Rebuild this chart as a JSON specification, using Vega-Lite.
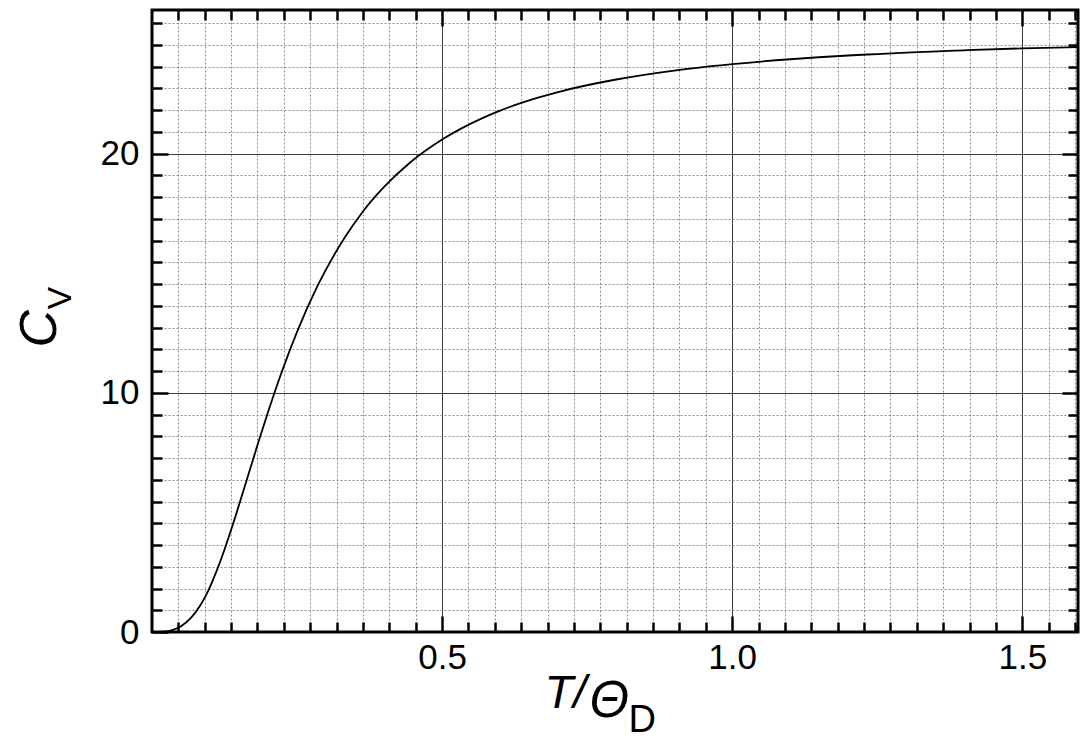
{
  "$schema": "https://vega.github.io/schema/vega-lite/v6.json",
  "width": 926,
  "height": 622,
  "autosize": {"type": "none"},
  "padding": {"left": 152, "top": 10, "right": 3, "bottom": 106},
  "background": "white",
  "config": {
    "view": {"stroke": "black", "strokeWidth": 3},
    "axis": {
      "labelFont": "Liberation Sans",
      "titleFont": "Liberation Sans",
      "labelColor": "black",
      "titleColor": "black",
      "domain": false,
      "tickColor": "black",
      "tickWidth": 2.5,
      "labelFontSize": 35,
      "labelFontWeight": "normal",
      "titleFontWeight": "normal"
    }
  },
  "data": {
    "values": [
      {"t": 0, "cv": 0},
      {"t": 0.025, "cv": 0.03},
      {"t": 0.0333, "cv": 0.072},
      {"t": 0.04, "cv": 0.124},
      {"t": 0.05, "cv": 0.243},
      {"t": 0.0667, "cv": 0.576},
      {"t": 0.0833, "cv": 1.117},
      {"t": 0.0909, "cv": 1.44},
      {"t": 0.1, "cv": 1.891},
      {"t": 0.1111, "cv": 2.531},
      {"t": 0.125, "cv": 3.447},
      {"t": 0.1333, "cv": 4.045},
      {"t": 0.1429, "cv": 4.76},
      {"t": 0.1538, "cv": 5.614},
      {"t": 0.1667, "cv": 6.624},
      {"t": 0.1818, "cv": 7.814},
      {"t": 0.2, "cv": 9.193},
      {"t": 0.2222, "cv": 10.774},
      {"t": 0.25, "cv": 12.546},
      {"t": 0.2857, "cv": 14.485},
      {"t": 0.3333, "cv": 16.529},
      {"t": 0.3636, "cv": 17.58},
      {"t": 0.4, "cv": 18.604},
      {"t": 0.4444, "cv": 19.615},
      {"t": 0.5, "cv": 20.585},
      {"t": 0.5714, "cv": 21.502},
      {"t": 0.6, "cv": 21.795},
      {"t": 0.6667, "cv": 22.344},
      {"t": 0.7, "cv": 22.572},
      {"t": 0.8, "cv": 23.095},
      {"t": 0.9, "cv": 23.469},
      {"t": 1.0, "cv": 23.736},
      {"t": 1.1, "cv": 23.942},
      {"t": 1.2, "cv": 24.098},
      {"t": 1.25, "cv": 24.159},
      {"t": 1.3, "cv": 24.22},
      {"t": 1.4, "cv": 24.315},
      {"t": 1.5, "cv": 24.397},
      {"t": 1.596, "cv": 24.45}
    ]
  },
  "layer": [
    {
      "mark": {"type": "line", "strokeOpacity": 0},
      "encoding": {
        "x": {
          "field": "t", "type": "quantitative",
          "scale": {"domain": [0, 1.596], "nice": false, "zero": false},
          "axis": {
            "orient": "bottom",
            "values": [0.04545, 0.09091, 0.13636, 0.18182, 0.22727, 0.27273, 0.31818, 0.36364, 0.40909, 0.45455, 0.54545, 0.59091, 0.63636, 0.68182, 0.72727, 0.77273, 0.81818, 0.86364, 0.90909, 0.95455, 1.04545, 1.09091, 1.13636, 1.18182, 1.22727, 1.27273, 1.31818, 1.36364, 1.40909, 1.45455, 1.54545, 1.59091],
            "labels": false,
            "tickSize": -10,
            "grid": true,
            "gridColor": "#8a8a8a",
            "gridDash": [2, 2],
            "gridWidth": 1,
            "title": "T/",
            "titleFontStyle": "italic",
            "titleFontSize": 47,
            "titleAlign": "left",
            "titleBaseline": "alphabetic",
            "titleAngle": 0,
            "titleX": 392,
            "titleY": 75
          }
        },
        "y": {
          "field": "cv", "type": "quantitative",
          "scale": {"domain": [0, 26], "nice": false, "zero": false},
          "axis": {
            "orient": "left",
            "values": [0.90909, 1.81818, 2.72727, 3.63636, 4.54545, 5.45455, 6.36364, 7.27273, 8.18182, 9.09091, 10.90909, 11.81818, 12.72727, 13.63636, 14.54545, 15.45455, 16.36364, 17.27273, 18.18182, 19.09091, 20.90909, 21.81818, 22.72727, 23.63636, 24.54545, 25.45455],
            "labels": false,
            "tickSize": -10,
            "grid": true,
            "gridColor": "#8a8a8a",
            "gridDash": [2, 2],
            "gridWidth": 1,
            "title": "C",
            "titleFontStyle": "italic",
            "titleFontSize": 52,
            "titleAngle": -90,
            "titleAlign": "left",
            "titleBaseline": "alphabetic",
            "titleX": -97,
            "titleY": 337
          }
        }
      }
    },
    {
      "mark": {"type": "line", "strokeOpacity": 0},
      "encoding": {
        "x": {
          "field": "t", "type": "quantitative",
          "axis": {
            "orient": "top",
            "values": [0.04545, 0.09091, 0.13636, 0.18182, 0.22727, 0.27273, 0.31818, 0.36364, 0.40909, 0.45455, 0.54545, 0.59091, 0.63636, 0.68182, 0.72727, 0.77273, 0.81818, 0.86364, 0.90909, 0.95455, 1.04545, 1.09091, 1.13636, 1.18182, 1.22727, 1.27273, 1.31818, 1.36364, 1.40909, 1.45455, 1.54545, 1.59091],
            "labels": false,
            "tickSize": -10,
            "grid": false,
            "title": null
          }
        },
        "y": {
          "field": "cv", "type": "quantitative",
          "axis": {
            "orient": "right",
            "values": [0.90909, 1.81818, 2.72727, 3.63636, 4.54545, 5.45455, 6.36364, 7.27273, 8.18182, 9.09091, 10.90909, 11.81818, 12.72727, 13.63636, 14.54545, 15.45455, 16.36364, 17.27273, 18.18182, 19.09091, 20.90909, 21.81818, 22.72727, 23.63636, 24.54545, 25.45455],
            "labels": false,
            "tickSize": -10,
            "grid": false,
            "title": null
          }
        }
      }
    },
    {
      "mark": {"type": "line", "strokeOpacity": 0},
      "encoding": {
        "x": {
          "field": "t", "type": "quantitative",
          "axis": {
            "orient": "top",
            "values": [0.5, 1.0, 1.5],
            "labels": false,
            "tickSize": -16,
            "grid": false,
            "title": null
          }
        },
        "y": {
          "field": "cv", "type": "quantitative",
          "axis": {
            "orient": "right",
            "values": [10, 20],
            "labels": false,
            "tickSize": -16,
            "grid": false,
            "title": null
          }
        }
      }
    },
    {
      "mark": {"type": "line", "strokeOpacity": 0},
      "encoding": {
        "x": {
          "field": "t", "type": "quantitative",
          "axis": {
            "orient": "bottom",
            "values": [],
            "labels": false,
            "ticks": false,
            "grid": false,
            "title": "Θ",
            "titleFontStyle": "italic",
            "titleFontSize": 51,
            "titleAlign": "left",
            "titleBaseline": "alphabetic",
            "titleAngle": 0,
            "titleX": 437,
            "titleY": 84
          }
        },
        "y": {"field": "cv", "type": "quantitative", "axis": null}
      }
    },
    {
      "mark": {"type": "line", "color": "black", "strokeWidth": 1.8, "interpolate": "monotone"},
      "encoding": {
        "x": {
          "field": "t", "type": "quantitative",
          "axis": {
            "orient": "bottom",
            "values": [0.5, 1.0, 1.5],
            "format": ".1f",
            "labels": true,
            "labelPadding": 24,
            "tickSize": -16,
            "grid": true,
            "gridColor": "#3a3a3a",
            "gridWidth": 1,
            "title": "D",
            "titleFontStyle": "normal",
            "titleFontSize": 38,
            "titleAlign": "left",
            "titleBaseline": "alphabetic",
            "titleAngle": 0,
            "titleX": 476,
            "titleY": 99
          }
        },
        "y": {
          "field": "cv", "type": "quantitative",
          "axis": {
            "orient": "left",
            "values": [0, 10, 20],
            "format": "d",
            "labels": true,
            "labelPadding": 29,
            "tickSize": -16,
            "grid": true,
            "gridColor": {"condition": {"test": "datum.value === 0", "value": "black"}, "value": "#3a3a3a"},
            "gridWidth": 1,
            "title": "V",
            "titleFontStyle": "normal",
            "titleFontSize": 34,
            "titleAngle": -90,
            "titleAlign": "left",
            "titleBaseline": "alphabetic",
            "titleX": -82,
            "titleY": 299
          }
        }
      }
    }
  ],
  "resolve": {"axis": {"x": "independent", "y": "independent"}}
}
